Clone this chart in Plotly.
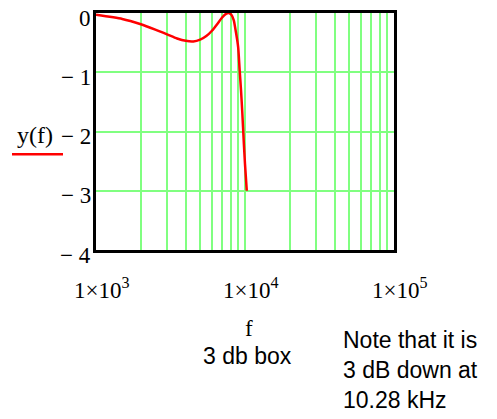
import math
import plotly.graph_objects as go

# Frequency response samples: frequency (Hz) and gain (dB)
freq_hz = [1000, 1500, 2000, 2500, 3000, 3500, 4000, 4500, 5000, 5500, 6000,
           6500, 7000, 7500, 7800, 8100, 8400, 8700, 9000, 9200, 9400, 9600,
           9800, 10000, 10280]
gain_db = [-0.03, -0.10, -0.19, -0.28, -0.36, -0.43, -0.47, -0.48, -0.45, -0.39,
           -0.30, -0.19, -0.08, -0.01, 0.0, -0.03, -0.12, -0.33, -0.58, -0.95,
           -1.30, -1.70, -2.15, -2.55, -3.0]

y_ticks = [0, -1, -2, -3, -4]
y_tick_text = ["0", "\u2212 1", "\u2212 2", "\u2212 3", "\u2212 4"]
x_decades = [1e3, 1e4, 1e5]
x_decade_text = ["1\u00d710<sup>3</sup>", "1\u00d710<sup>4</sup>", "1\u00d710<sup>5</sup>"]
marker_freq = 1e4

minor_grid = [m * 10 ** d for d in (3, 4) for m in range(2, 10)]

W, H = 497, 419
L, R, T, B = 96, 103, 10, 169
pw, ph = W - L - R, H - T - B


def px(x):
    return (x - L) / pw


def py(y):
    return (T + ph - y) / ph


serif = "Liberation Serif"
sans = "Liberation Sans"
grid_col = "#80ff80"

fig = go.Figure()
fig.add_trace(go.Scatter(
    x=freq_hz, y=gain_db, mode="lines",
    line=dict(color="#ff0000", width=2.5, shape="spline", smoothing=0.6),
    cliponaxis=False, showlegend=False,
))

# frequency marker
fig.add_shape(type="line", xref="x", yref="paper", x0=marker_freq, x1=marker_freq,
              y0=0, y1=1, line=dict(color="#7f7f7f", width=2), layer="between")

annotations = []
for v, t in zip(x_decades, x_decade_text):
    annotations.append(dict(x=math.log10(v), xref="x", y=py(289), yref="paper", text=t,
                            showarrow=False, xanchor="center", yanchor="middle",
                            xshift=6, font=dict(family=serif, size=23, color="black")))
for v, t in zip(y_ticks, y_tick_text):
    annotations.append(dict(x=px(93), xref="paper", y=v, yref="y", text=t,
                            showarrow=False, xanchor="right", yanchor="middle",
                            yshift=-5, font=dict(family=serif, size=23, color="black")))
annotations += [
    dict(x=px(35), y=py(134), xref="paper", yref="paper", text="y(f)",
         showarrow=False, xanchor="center", yanchor="middle",
         font=dict(family=serif, size=24, color="black")),
    dict(x=px(249), y=py(329), xref="paper", yref="paper", text="f",
         showarrow=False, xanchor="center", yanchor="middle",
         font=dict(family=serif, size=23, color="black")),
    dict(x=px(247), y=py(357), xref="paper", yref="paper", text="3 db box",
         showarrow=False, xanchor="center", yanchor="middle",
         font=dict(family=sans, size=23, color="black")),
    dict(x=px(341), y=py(372), xref="paper", yref="paper",
         text="Note that it is<br>3 dB down at<br>10.28 kHz",
         showarrow=False, xanchor="left", yanchor="middle", align="left",
         font=dict(family=sans, size=23, color="black")),
]

# trace key under the y-axis name
fig.add_shape(type="line", xref="paper", yref="paper", x0=px(12), x1=px(63),
              y0=py(153), y1=py(153), line=dict(color="#ff0000", width=2.5))

fig.update_layout(
    width=W, height=H,
    margin=dict(l=L, r=R, t=T, b=B, pad=0),
    paper_bgcolor="white", plot_bgcolor="white",
    annotations=annotations,
    xaxis=dict(type="log", range=[3, 5], tickvals=x_decades,
               showticklabels=False, showgrid=True,
               gridcolor=grid_col, gridwidth=1.5, zeroline=False,
               showline=True, linecolor="black", linewidth=2.5, mirror=True,
               ticks="",
               minor=dict(tickvals=minor_grid, showgrid=True,
                          gridcolor=grid_col, gridwidth=1.5, ticks="")),
    yaxis=dict(range=[-4, 0], tickvals=y_ticks, showticklabels=False,
               showgrid=True, gridcolor=grid_col, gridwidth=1.5,
               zeroline=False, showline=True, linecolor="black",
               linewidth=2.5, mirror=True, ticks=""),
)

fig.write_html("out.html")
